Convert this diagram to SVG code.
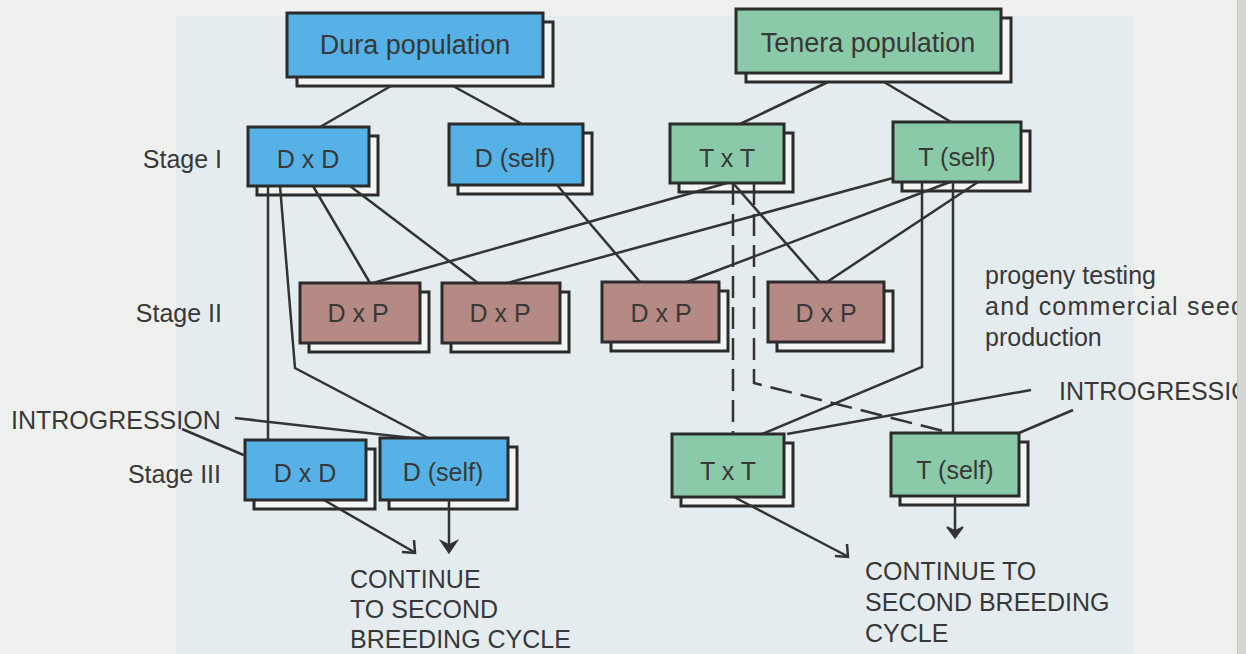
<svg xmlns="http://www.w3.org/2000/svg" width="1246" height="654" viewBox="0 0 1246 654">
<style>
text{font-family:"Liberation Sans",Arial,sans-serif;fill:#383838}
.h{font-size:27px;text-anchor:middle}
.n{font-size:25px;text-anchor:middle}
.l{font-size:25px}
.r{font-size:25px;text-anchor:end}
.sh{fill:#f4f6f5;stroke:#2b2b2b;stroke-width:3}
.b{fill:#56b2e6;stroke:#2b2b2b;stroke-width:3}
.g{fill:#8bcaa8;stroke:#2b2b2b;stroke-width:3}
.p{fill:#b68a84;stroke:#2b2b2b;stroke-width:3}
.c{fill:none;stroke:#333;stroke-width:2.5}
.d{fill:none;stroke:#333;stroke-width:2.5;stroke-dasharray:22 9}
.ah{fill:#333;stroke:#333;stroke-width:1.5;stroke-linejoin:miter}
</style>
<rect x="0" y="0" width="1246" height="654" fill="#eff1ef"/>
<rect x="176" y="16" width="958" height="638" fill="#e4ecef"/>
<g id="dura_pop"><rect class="sh" x="297" y="22" width="256" height="64"/><rect class="b" x="287" y="13" width="256" height="64"/><text class="h" x="415" y="54">Dura population</text></g>
<g id="tenera_pop"><rect class="sh" x="746" y="18" width="265" height="64"/><rect class="g" x="736" y="9" width="265" height="64"/><text class="h" x="868" y="52">Tenera population</text></g>
<g id="dxd1"><rect class="sh" x="257" y="136" width="121" height="59"/><rect class="b" x="248" y="127" width="121" height="59"/><text class="n" x="308" y="168">D x D</text></g>
<g id="dself1"><rect class="sh" x="458" y="133" width="134" height="61"/><rect class="b" x="449" y="124" width="134" height="61"/><text class="n" x="515" y="167">D (self)</text></g>
<g id="txt1"><rect class="sh" x="679" y="133" width="114" height="59"/><rect class="g" x="670" y="124" width="114" height="59"/><text class="n" x="727" y="167">T x T</text></g>
<g id="tself1"><rect class="sh" x="902" y="131" width="128" height="60"/><rect class="g" x="893" y="122" width="128" height="60"/><text class="n" x="957" y="166">T (self)</text></g>
<g id="dxp1"><rect class="sh" x="309" y="292" width="120" height="60"/><rect class="p" x="300" y="283" width="120" height="60"/><text class="n" x="358" y="322">D x P</text></g>
<g id="dxp2"><rect class="sh" x="451" y="292" width="118" height="60"/><rect class="p" x="442" y="283" width="118" height="60"/><text class="n" x="500" y="322">D x P</text></g>
<g id="dxp3"><rect class="sh" x="611" y="291" width="117" height="60"/><rect class="p" x="602" y="282" width="117" height="60"/><text class="n" x="661" y="322">D x P</text></g>
<g id="dxp4"><rect class="sh" x="777" y="291" width="116" height="60"/><rect class="p" x="768" y="282" width="116" height="60"/><text class="n" x="826" y="322">D x P</text></g>
<g id="dxd3"><rect class="sh" x="254" y="449" width="121" height="60"/><rect class="b" x="245" y="440" width="121" height="60"/><text class="n" x="305" y="482">D x D</text></g>
<g id="dself3"><rect class="sh" x="389" y="447" width="128" height="62"/><rect class="b" x="380" y="438" width="128" height="62"/><text class="n" x="443" y="481">D (self)</text></g>
<g id="txt3"><rect class="sh" x="681" y="443" width="112" height="63"/><rect class="g" x="672" y="434" width="112" height="63"/><text class="n" x="728" y="480">T x T</text></g>
<g id="tself3"><rect class="sh" x="900" y="442" width="128" height="63"/><rect class="g" x="891" y="433" width="128" height="63"/><text class="n" x="955" y="479">T (self)</text></g>
<g id="labels">
<text class="r" x="222" y="168">Stage I</text>
<text class="r" x="222" y="322">Stage II</text>
<text class="r" x="221" y="483">Stage III</text>
<text class="l" x="11" y="429">INTROGRESSION</text>
<text class="l" x="1059" y="400">INTROGRESSION</text>
<text class="l" x="985" y="284">progeny testing</text>
<text class="l" x="985" y="315" textLength="260">and commercial seed</text>
<text class="l" x="985" y="346">production</text>
<text class="l" x="350" y="588">CONTINUE</text>
<text class="l" x="350" y="618">TO SECOND</text>
<text class="l" x="350" y="648">BREEDING CYCLE</text>
<text class="l" x="865" y="580">CONTINUE TO</text>
<text class="l" x="865" y="611">SECOND BREEDING</text>
<text class="l" x="865" y="642">CYCLE</text>
</g>
<g id="connectors">
<line class="c" x1="391" y1="86" x2="320" y2="127"/>
<line class="c" x1="453" y1="86" x2="522" y2="124"/>
<line class="c" x1="828" y1="82" x2="740" y2="124"/>
<line class="c" x1="884" y1="82" x2="951" y2="122"/>
<line class="c" x1="268" y1="186" x2="268" y2="440"/>
<polyline class="c" points="280,186 295,368 428,438"/>
<line class="c" x1="313" y1="186" x2="370" y2="283"/>
<line class="c" x1="350" y1="186" x2="478" y2="283"/>
<line class="c" x1="557" y1="185" x2="640" y2="282"/>
<line class="c" x1="727" y1="183" x2="373" y2="283"/>
<line class="c" x1="733" y1="183" x2="820" y2="282"/>
<line class="d" x1="733" y1="183" x2="733" y2="434"/>
<polyline class="d" points="754,183 754,383 951,433"/>
<line class="c" x1="893" y1="178" x2="507" y2="283"/>
<line class="c" x1="950" y1="182" x2="687" y2="282"/>
<line class="c" x1="978" y1="182" x2="827" y2="282"/>
<polyline class="c" points="922,182 922,367 762,434"/>
<line class="c" x1="953" y1="182" x2="953" y2="433"/>
<line class="c" x1="235" y1="418" x2="412" y2="438"/>
<line class="c" x1="182" y1="429" x2="246" y2="456"/>
<line class="c" x1="1031" y1="390" x2="787" y2="434"/>
<line class="c" x1="1073" y1="410" x2="1019" y2="433"/>
<line class="c" x1="324" y1="500" x2="414" y2="552"/>
<polyline class="c" points="402,552 415,553 414,540"/>
<line class="c" x1="449" y1="500" x2="449" y2="546"/>
<path class="ah" d="M441,541 L449,553 L457,541 L449,545 Z"/>
<line class="c" x1="734" y1="497" x2="847" y2="556"/>
<polyline class="c" points="835,556 848,557 847,544"/>
<line class="c" x1="955" y1="496" x2="955" y2="531"/>
<path class="ah" d="M947,527 L955,538 L963,527 L955,531 Z"/>
</g>
<rect x="1237" y="0" width="9" height="654" fill="#d6d6d3"/>
<line x1="1237.5" y1="0" x2="1237.5" y2="654" stroke="#c4c4c0" stroke-width="1"/>
</svg>
